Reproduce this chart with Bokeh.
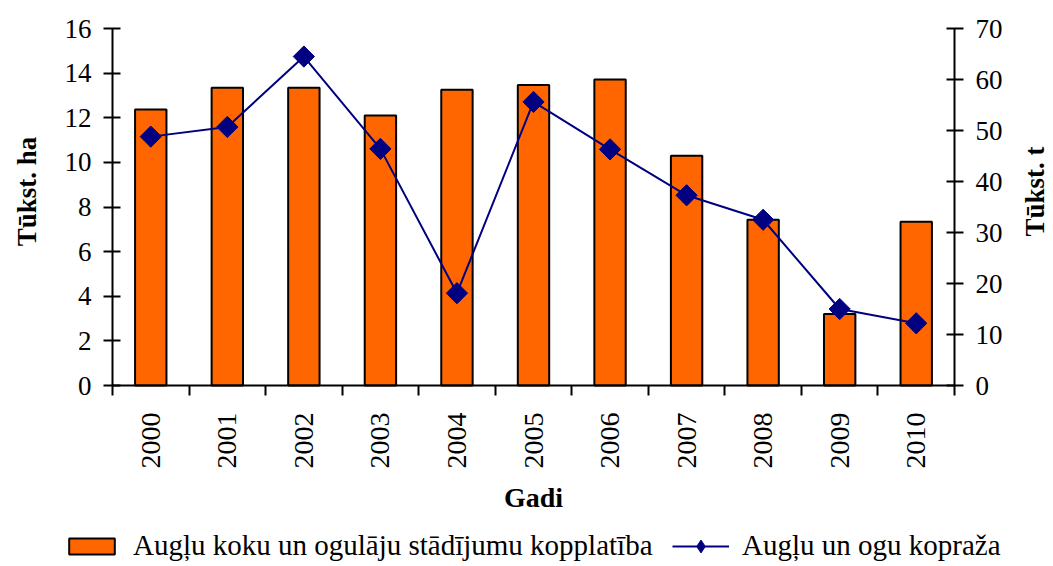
import numpy as np
from bokeh.plotting import figure
from bokeh.models import Range1d, LinearAxis, FixedTicker, Legend, LegendItem, Label
from bokeh.embed import file_html
from bokeh.resources import INLINE

years = ["2000", "2001", "2002", "2003", "2004", "2005", "2006", "2007", "2008", "2009", "2010"]
area = [12.37, 13.35, 13.35, 12.1, 13.26, 13.47, 13.71, 10.3, 7.43, 3.21, 7.34]
harvest = [48.8, 50.7, 64.5, 46.4, 18.1, 55.6, 46.3, 37.3, 32.5, 15.0, 12.2]
left_ticks = [0, 2, 4, 6, 8, 10, 12, 14, 16]
right_ticks = [0, 10, 20, 30, 40, 50, 60, 70]
bar_label = "Augļu koku un ogulāju stādījumu kopplatība"
line_label = "Augļu un ogu kopraža"
x_title = "Gadi"
left_title = "Tūkst. ha"
right_title = "Tūkst. t"

FONT = "Liberation Serif"
ORANGE = "#FF6600"
NAVY = "#000080"

# canvas / plotting-area geometry (pixels)
W, H = 1052, 564
PL, PR, PT, PB = 112, 954, 28, 385   # plotting area edges

n = len(years)
x = np.arange(n)
xpx = (PR - PL) / n
x_lo, x_hi = -0.5 - PL / xpx, n - 0.5 + (W - PR) / xpx
lpx = (PB - PT) / (left_ticks[-1] - left_ticks[0])
y_lo, y_hi = left_ticks[0] - (H - PB) / lpx, left_ticks[-1] + PT / lpx
rpx = (PB - PT) / (right_ticks[-1] - right_ticks[0])
t_lo, t_hi = right_ticks[0] - (H - PB) / rpx, right_ticks[-1] + PT / rpx

p = figure(frame_width=W, frame_height=H, output_backend="svg", toolbar_location=None,
           x_range=Range1d(x_lo, x_hi), y_range=Range1d(y_lo, y_hi),
           min_border=0, min_border_left=0, min_border_right=0,
           min_border_top=0, min_border_bottom=0)
p.extra_y_ranges = {"t": Range1d(t_lo, t_hi)}
p.xgrid.visible = False
p.ygrid.visible = False
p.outline_line_color = None
p.background_fill_color = "white"
p.border_fill_color = "white"

bars = p.vbar(x=x, top=area, width=0.41, fill_color=ORANGE, line_color="black", line_width=2)
ln = p.line(x, harvest, y_range_name="t", line_color=NAVY, line_width=2)
pts = p.scatter(x, harvest, y_range_name="t", marker="square", angle=np.pi / 4,
                size=15, fill_color=NAVY, line_color=NAVY)
# marker used only for the legend entry (no visible point)
leg_pts = p.scatter(x=[np.nan], y=[np.nan], y_range_name="t", marker="diamond",
                    fill_color=NAVY, line_color=NAVY)

# x axis, drawn at y = 0
xa = p.xaxis[0]
xa.fixed_location = 0
xa.bounds = (-0.5, n - 0.5)
xa.ticker = FixedTicker(ticks=list(x), minor_ticks=list(np.arange(n + 1) - 0.5))
xa.major_label_overrides = {int(i): y for i, y in zip(x, years)}
xa.major_label_orientation = np.pi / 2
xa.major_tick_in = 0
xa.major_tick_out = 0
xa.minor_tick_in = 0
xa.minor_tick_out = 10
xa.minor_tick_line_color = "black"
xa.minor_tick_line_width = 2
xa.axis_line_width = 2
xa.major_label_text_font = FONT
xa.major_label_text_font_size = "28px"
xa.major_label_text_color = "black"
xa.major_label_standoff = 17

# left axis at the left edge of the bars area
ya = p.yaxis[0]
ya.fixed_location = -0.5
ya.bounds = (left_ticks[0], left_ticks[-1])
ya.ticker = FixedTicker(ticks=left_ticks)

ra = LinearAxis(y_range_name="t", ticker=FixedTicker(ticks=right_ticks),
                fixed_location=n - 0.5, bounds=(right_ticks[0], right_ticks[-1]))
p.add_layout(ra, "right")

for ax in [ya, ra]:
    ax.major_tick_in = 8
    ax.major_tick_out = 9
    ax.minor_tick_line_color = None
    ax.axis_line_width = 2
    ax.major_tick_line_width = 2
    ax.major_label_text_font = FONT
    ax.major_label_text_font_size = "27px"
    ax.major_label_text_color = "black"
    ax.major_label_standoff = 12

title_style = dict(text_font=FONT, text_font_style="bold", text_color="black",
                   text_align="center", text_baseline="middle")
p.add_layout(Label(x=(n - 1) / 2, y=H - 497, x_units="data", y_units="screen",
                   text=x_title, text_font_size="28px", **title_style))
p.add_layout(Label(x=26, y=H - 191, x_units="screen", y_units="screen", angle=np.pi / 2,
                   text=left_title, text_font_size="27px", **title_style))
p.add_layout(Label(x=1034, y=H - 191, x_units="screen", y_units="screen", angle=np.pi / 2,
                   text=right_title, text_font_size="27px", **title_style))

common = dict(orientation="horizontal", border_line_color=None, background_fill_alpha=0,
              label_text_font=FONT, label_text_font_size="29px", label_text_color="black",
              label_standoff=13, padding=0, margin=0, glyph_width=57)
leg1 = Legend(items=[LegendItem(label=bar_label, renderers=[bars])],
              location=(63, 2), glyph_height=20, **common)
leg2 = Legend(items=[LegendItem(label=line_label, renderers=[ln, leg_pts])],
              location=(672, 2), glyph_height=32, **common)
p.add_layout(leg1, "center")
p.add_layout(leg2, "center")

open("out.html", "w").write(file_html(p, INLINE))
